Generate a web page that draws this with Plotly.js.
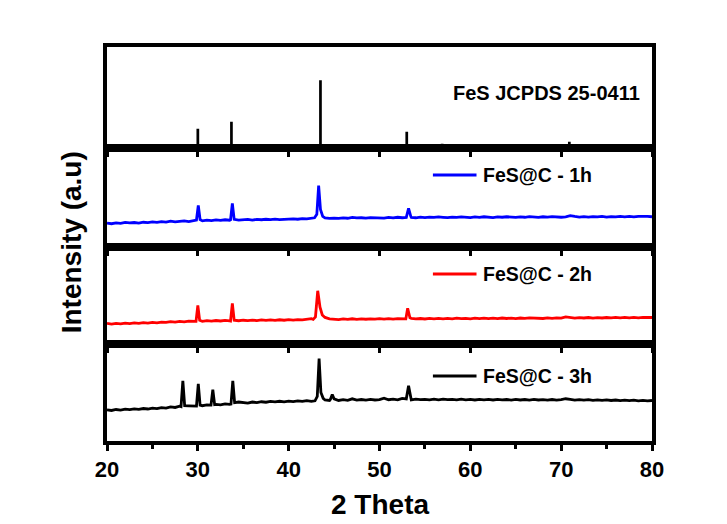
<!DOCTYPE html>
<html>
<head>
<meta charset="utf-8">
<script src="https://cdn.plot.ly/plotly-3.0.1.min.js"></script>
<style>html,body{margin:0;padding:0;background:#fff;}#chart{width:727px;height:524px;}</style>
</head>
<body>
<div id="chart"></div>
<script>
// ---------- DATA ----------
// sampling grid for the diffractogram baselines (2θ, degrees)
const gridX = [
  20,20.5,21,21.5,22,22.5,23,23.5,24,24.5,
  25,25.5,26,26.5,27,27.5,28,28.5,29,29.5,
  30,30.5,31,31.5,32,32.5,33,33.5,34,34.5,
  35,35.5,36,36.5,37,37.5,38,38.5,39,39.5,
  40,40.5,41,41.5,42,42.5,43,43.5,44,44.5,
  45,45.5,46,46.5,47,47.5,48,48.5,49,49.5,
  50,50.5,51,51.5,52,52.5,53,53.5,54,54.5,
  55,55.5,56,56.5,57,57.5,58,58.5,59,59.5,
  60,60.5,61,61.5,62,62.5,63,63.5,64,64.5,
  65,65.5,66,66.5,67,67.5,68,68.5,69,69.5,
  70,70.5,71,71.5,72,72.5,73,73.5,74,74.5,
  75,75.5,76,76.5,77,77.5,78,78.5,79,79.5,
  80
];

// FeS@C - 1h (blue) baseline intensities (a.u., panel-relative)
const blueBase = [
  24.3,23.6,24.5,24.0,24.9,24.4,24.8,24.2,25.1,24.7,
  25.4,24.9,25.7,25.2,26.1,25.5,25.9,26.4,25.8,26.6,
  27.0,26.5,27.3,26.8,27.4,27.0,27.6,27.1,27.7,27.3,
  27.5,27.9,27.2,28.0,27.6,28.1,27.7,28.3,27.8,28.2,
  28.0,28.5,28.1,28.7,28.4,29.0,29.4,29.0,29.5,28.9,
  29.3,28.9,29.5,29.1,30.0,29.4,29.6,29.2,29.8,29.4,
  29.7,29.3,29.9,29.5,30.1,29.6,30.4,30.0,29.6,30.2,
  29.8,30.3,29.9,30.4,30.0,29.7,30.3,29.9,30.5,30.1,
  29.8,30.4,30.0,30.6,30.1,29.8,30.5,30.1,30.6,30.2,
  29.9,30.5,30.1,30.7,30.2,29.9,30.6,30.2,30.7,30.3,
  30.1,30.6,31.8,30.9,30.3,30.7,30.2,30.8,30.4,30.9,
  30.3,30.8,30.4,31.0,30.5,30.9,30.4,31.0,30.6,30.9,
  30.6
];
const bluePeakX = [[29.85,30.05,30.25],[33.6,33.8,34.0],[42.85,43.1,43.3,43.5,43.75],[52.95,53.2,53.45]];
const bluePeakY = [[27.3,42,27.8],[27.5,44,28.0],[29.6,33,62,38,31],[30.0,39,30.8]];

// FeS@C - 2h (red)
const redBase = [
  21.3,20.6,21.4,20.9,21.7,21.2,21.9,21.4,22.1,21.7,
  22.4,21.9,22.7,22.3,23.1,22.6,23.4,22.9,23.6,23.3,
  24.0,23.5,24.2,23.7,24.3,23.8,24.4,24.0,24.5,24.1,
  24.6,24.2,24.8,24.3,24.9,24.4,25.0,24.5,25.1,24.6,
  25.2,24.7,25.3,24.9,25.6,26.2,27.0,26.2,27.0,26.0,
  25.7,25.2,25.9,25.4,26.1,25.5,26.0,25.6,26.1,25.7,
  26.2,25.8,26.3,25.7,26.2,26.4,27.6,26.6,26.0,26.4,
  25.9,26.5,26.0,26.6,26.1,26.5,26.0,26.7,26.2,26.6,
  26.1,26.7,26.2,26.8,26.3,26.7,26.2,26.9,26.4,26.8,
  26.3,26.9,26.5,27.0,26.6,26.9,26.4,27.0,26.5,27.1,
  26.7,28.0,27.2,26.8,27.3,26.9,27.4,26.8,27.3,26.9,
  27.4,27.0,27.5,27.1,27.6,27.0,27.5,27.1,27.6,27.2,
  27.4
];
const redPeakX = [[29.8,30.0,30.2],[33.6,33.8,34.0],[42.7,42.95,43.2,43.45,43.7,44.0],[52.9,53.1,53.35]];
const redPeakY = [[23.5,40,24.5],[23.8,42,24.6],[25.5,28,55,38,30,27.5],[26.0,37,27.2]];

// FeS@C - 3h (black)
const blackBase = [
  32.2,31.5,32.5,31.9,32.8,32.3,33.2,32.6,33.5,33.0,
  34.0,33.4,34.5,34.0,35.2,34.6,36.0,35.5,36.3,35.8,
  36.8,36.4,37.2,36.7,37.8,37.2,38.3,37.7,38.8,40.2,
  39.5,39.0,40.2,39.6,40.5,40.0,40.8,40.3,41.0,40.4,
  41.2,40.6,41.3,40.8,41.6,41.0,42.0,41.5,42.3,41.8,
  42.4,41.8,42.6,42.0,43.5,42.2,42.8,42.1,42.9,42.3,
  42.7,44.2,42.6,43.2,42.5,44.0,43.0,42.4,43.1,42.6,
  43.0,42.4,43.1,42.5,43.2,42.6,43.0,42.4,43.1,42.5,
  42.9,42.3,43.0,42.4,42.9,42.3,43.0,42.4,42.8,42.2,
  42.9,42.3,42.8,42.2,42.9,42.3,42.7,42.1,42.8,42.2,
  42.6,43.6,42.9,42.2,42.7,42.1,42.6,42.0,42.5,41.9,
  42.4,41.8,42.3,41.7,42.2,41.6,42.1,41.5,42.0,41.4,
  41.8
];
const blackPeakX = [[28.15,28.35,28.55],[29.85,30.05,30.25],[31.45,31.65,31.85],[33.65,33.85,34.05],[42.9,43.15,43.35,43.55,43.8],[44.6,44.8,45.0],[52.95,53.2,53.45]];
const blackPeakY = [[35.5,62,36.5],[36.0,59,37.0],[37.0,53,37.5],[38.0,62,39.5],[41.5,46,85,50,44],[43,48,43.5],[43.5,57,44]];

// JCPDS 25-0411 reference lines
const refX = [30.0, 33.7, 43.5, 53.0, 56.9, 70.9];
const refY = [19, 26, 67, 16, 4, 6];

const seriesNames = ['FeS@C - 1h', 'FeS@C - 2h', 'FeS@C - 3h'];
const seriesColors = ['#0000ff', '#ff0000', '#000000'];
const refLabel = 'FeS JCPDS 25-0411';
const xTitle = '2 Theta';
const yTitle = 'Intensity (a.u)';

// ---------- BUILD ----------
function merge(baseY, peakX, peakY) {
  const pts = [];
  gridX.forEach((x, i) => {
    const inside = peakX.some(g => x >= g[0] && x <= g[g.length - 1]);
    if (!inside) pts.push([x, baseY[i]]);
  });
  peakX.forEach((g, k) => g.forEach((x, j) => pts.push([x, peakY[k][j]])));
  pts.sort((a, b) => a[0] - b[0]);
  return { x: pts.map(p => p[0]), y: pts.map(p => p[1]) };
}

const blue = merge(blueBase, bluePeakX, bluePeakY);
const red = merge(redBase, redPeakX, redPeakY);
const black = merge(blackBase, blackPeakX, blackPeakY);

const FONT = 'Liberation Sans, Arial, sans-serif';

const traces = [
  { type: 'scatter', mode: 'lines', x: black.x, y: black.y, xaxis: 'x', yaxis: 'y',
    name: seriesNames[2], line: { color: seriesColors[2], width: 2.8 } },
  { type: 'scatter', mode: 'lines', x: red.x, y: red.y, xaxis: 'x2', yaxis: 'y2',
    name: seriesNames[1], line: { color: seriesColors[1], width: 2.8 } },
  { type: 'scatter', mode: 'lines', x: blue.x, y: blue.y, xaxis: 'x3', yaxis: 'y3',
    name: seriesNames[0], line: { color: seriesColors[0], width: 2.8 } },
  { type: 'bar', x: refX, y: refY, xaxis: 'x4', yaxis: 'y4', width: 0.3,
    marker: { color: '#000000', line: { width: 0 } }, hoverinfo: 'skip' }
];

function xax(anchor, labels) {
  const a = {
    anchor: anchor, range: [20, 80], showline: true, mirror: true, linewidth: 4, linecolor: '#000',
    ticks: 'outside', ticklen: 5, tickwidth: 3, tickcolor: '#000', dtick: 10, tick0: 0,
    showgrid: false, zeroline: false, showticklabels: labels,
    tickfont: { family: FONT, size: 22, color: '#000', weight: 'bold' }
  };
  if (labels) {
    a.minor = { dtick: 5, tick0: 0, ticks: 'outside', ticklen: 4, tickwidth: 3, tickcolor: '#000', showgrid: false };
    a.ticklen = 6;
  } else {
    a.matches = 'x';
  }
  return a;
}
function yax(domain, anchor) {
  return { domain: domain, anchor: anchor, range: [0, 100], showline: true, mirror: true, linewidth: 4,
    linecolor: '#000', ticks: '', showticklabels: false, showgrid: false, zeroline: false };
}

// legend keys (sample line + label) placed inside each panel, in paper coordinates
const keyY = [0.675, 0.424, 0.165];
const keyLineX = [0.598, 0.678];
const keyTextX = 0.686;

const shapes = keyY.map((y, i) => ({
  type: 'line', xref: 'paper', yref: 'paper', x0: keyLineX[0], x1: keyLineX[1], y0: y, y1: y,
  line: { color: seriesColors[i], width: 3 }
}));

const annotations = keyY.map((y, i) => ({
  text: seriesNames[i], xref: 'paper', yref: 'paper', x: keyTextX, y: y, xanchor: 'left', yanchor: 'middle',
  showarrow: false, font: { family: FONT, size: 19.5, color: '#000', weight: 'bold' }
})).concat([
  { text: refLabel, xref: 'paper', yref: 'paper', x: 0.806, y: 0.8845, xanchor: 'center', yanchor: 'middle',
    showarrow: false, font: { family: FONT, size: 20, color: '#000', weight: 'bold' } },
  { text: xTitle, xref: 'paper', yref: 'paper', x: 0.5, y: -0.162, xanchor: 'center', yanchor: 'middle',
    showarrow: false, font: { family: FONT, size: 28, color: '#000', weight: 'bold' } },
  { text: yTitle, xref: 'paper', yref: 'paper', x: -0.0656, y: 0.505, xanchor: 'center', yanchor: 'middle',
    textangle: -90, showarrow: false, font: { family: FONT, size: 28, color: '#000', weight: 'bold' } }
]);

const layout = {
  width: 727, height: 524,
  margin: { l: 107, r: 75, t: 47, b: 83 },
  paper_bgcolor: '#fff', plot_bgcolor: '#fff',
  showlegend: false,
  xaxis: xax('y', true),
  xaxis2: xax('y2', false),
  xaxis3: xax('y3', false),
  xaxis4: xax('y4', false),
  yaxis: yax([0, 0.246], 'x'),
  yaxis2: yax([0.246, 0.492], 'x2'),
  yaxis3: yax([0.492, 0.744], 'x3'),
  yaxis4: yax([0.744, 1], 'x4'),
  shapes: shapes,
  annotations: annotations
};

Plotly.newPlot('chart', traces, layout, { staticPlot: true, displayModeBar: false });
</script>
</body>
</html>
